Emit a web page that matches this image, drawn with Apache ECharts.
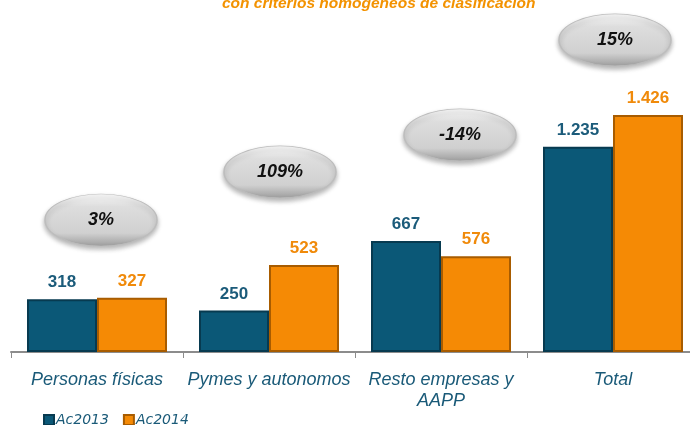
<!DOCTYPE html>
<html>
<head>
<meta charset="utf-8">
<script src="https://cdn.jsdelivr.net/npm/echarts@6/dist/echarts.min.js"></script>
<style>
  html, body { margin: 0; padding: 0; background: #fff; overflow: hidden; }
  #chart { width: 700px; height: 425px; }
</style>
</head>
<body>
<div id="chart"></div>
<script>
// datos
const categories = ['Personas físicas', 'Pymes y autonomos', 'Resto empresas y\nAAPP', 'Total']
const ac2013 = [318, 250, 667, 1235]
const ac2014 = [327, 523, 576, 1426]
const growth = ['3%', '109%', '-14%', '15%']
const bubbleLevel = [794, 1083, 1306, 1877]

// formato 1.235
const fmt = (v) => String(v).replace(/\B(?=(\d{3})+(?!\d))/g, '.')

const blue = '#0b5877'
const orange = '#f58a05'

const barStyle = (base, dark) => ({
    color: base,
    borderColor: dark,
    borderWidth: 2
})

// desplazamiento horizontal de las elipses
const bubbleNudge = [4, 11, 19, 2]

const renderBubble = (params, api) => {
    const idx = api.value(0)
    const p = api.coord([idx, api.value(1)])
    const cx = p[0] + bubbleNudge[idx]
    const cy = p[1]
    const rx = 56, ry = 26
    return {
        type: 'group',
        children: [
            {
                type: 'circle',
                x: cx, y: cy, scaleY: ry / rx,
                shape: { cx: 0, cy: 0, r: rx },
                style: {
                    fill: {
                        type: 'linear', x: 0, y: 0, x2: 0, y2: 1,
                        colorStops: [
                            { offset: 0, color: '#f8f8f8' },
                            { offset: 0.25, color: '#dddddd' },
                            { offset: 0.75, color: '#d0d0d0' },
                            { offset: 1, color: '#9d9d9d' }
                        ]
                    },
                    stroke: '#bdbdbd',
                    lineWidth: 1.5,
                    shadowBlur: 5,
                    shadowOffsetY: 3,
                    shadowColor: 'rgba(0,0,0,0.3)'
                }
            },
            {
                type: 'text',
                x: cx, y: cy,
                style: {
                    text: api.value(2),
                    fill: '#111',
                    font: 'italic bold 18px Arial, "Liberation Sans", sans-serif',
                    align: 'center',
                    verticalAlign: 'middle'
                }
            }
        ]
    }
}

const chart = echarts.init(document.getElementById('chart'))
const option = {
    animation: false,
    title: {
        text: 'con criterios homogéneos de clasificación',
        left: 217,
        top: -9,
        textStyle: {
            color: '#f39200',
            fontStyle: 'italic',
            fontWeight: 'bold',
            fontSize: 15.5,
            fontFamily: 'Arial, "Liberation Sans", sans-serif'
        }
    },
    legend: {
        data: ['Ac2013', 'Ac2014'],
        left: 38,
        top: 408,
        itemWidth: 10,
        itemHeight: 10,
        itemGap: 14,
        icon: 'rect',
        textStyle: {
            color: '#1a5a78',
            fontStyle: 'italic',
            fontSize: 14,
            fontFamily: '"DejaVu Sans", sans-serif',
            padding: [0, 0, 0, -3]
        }
    },
    grid: { left: 11, top: 86, right: 1, height: 266 },
    xAxis: {
        type: 'category',
        data: categories,
        axisLine: { lineStyle: { color: '#8c8c8c', width: 2 } },
        axisTick: { show: true, interval: 0, length: 6, lineStyle: { color: '#8c8c8c', width: 1 } },
        axisLabel: {
            interval: 0,
            margin: 17,
            color: '#1a5a78',
            fontStyle: 'italic',
            fontSize: 18,
            lineHeight: 21,
            fontFamily: 'Arial, "Liberation Sans", sans-serif'
        }
    },
    yAxis: { type: 'value', min: 0, max: 1600, show: false },
    series: [
        {
            name: 'Ac2013',
            type: 'bar',
            data: ac2013,
            barWidth: 70,
            barGap: '0%',
            itemStyle: barStyle(blue, '#073a50'),
            label: {
                show: true, position: 'top', distance: 8,
                formatter: (p) => fmt(p.value),
                color: '#1b5b7a', fontWeight: 'bold', fontSize: 17,
                fontFamily: 'Arial, "Liberation Sans", sans-serif'
            }
        },
        {
            name: 'Ac2014',
            type: 'bar',
            data: ac2014,
            barWidth: 70,
            barGap: '0%',
            itemStyle: barStyle(orange, '#a85c00'),
            label: {
                show: true, position: 'top', distance: 8,
                formatter: (p) => fmt(p.value),
                color: '#f08a0a', fontWeight: 'bold', fontSize: 17,
                fontFamily: 'Arial, "Liberation Sans", sans-serif'
            }
        },
        {
            name: 'crecimiento',
            type: 'custom',
            renderItem: renderBubble,
            data: categories.map((c, i) => [i, bubbleLevel[i], growth[i]]),
            z: 5,
            silent: true
        }
    ]
}
chart.setOption(option)
</script>
</body>
</html>
